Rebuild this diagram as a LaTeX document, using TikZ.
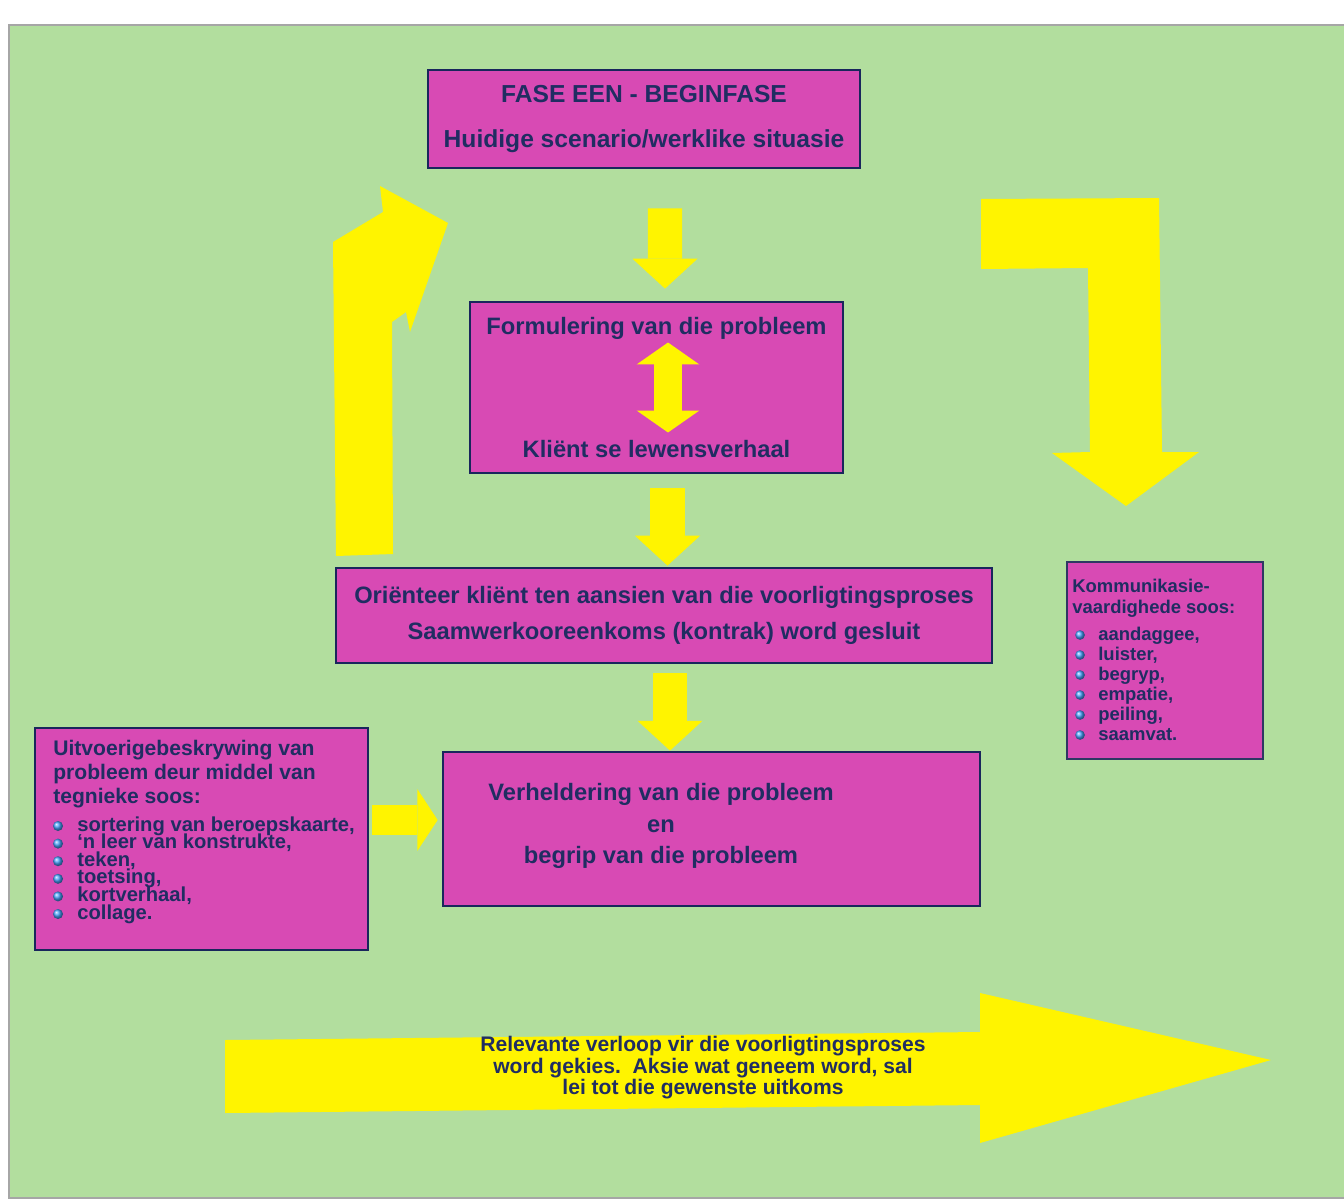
\documentclass[tikz,border=0pt]{standalone}
\usepackage{fontspec}
\setmainfont{Liberation Sans}
\usetikzlibrary{arrows.meta,calc}
\definecolor{veldgroen}{RGB}{178,222,158}
\definecolor{bokspienk}{RGB}{216,74,180}
\definecolor{boksrand}{RGB}{25,38,92}
\definecolor{skrif}{RGB}{32,45,98}
\definecolor{pylgeel}{RGB}{255,244,0}
\definecolor{koeltjie}{RGB}{70,160,250}

\tikzset{
  boks/.style={draw=boksrand, line width=1.6pt, fill=bokspienk, text=skrif, align=center, inner sep=2pt},
  lys/.style={text=skrif, inner sep=0pt},
  pyl/.style={draw=pylgeel, line width=19.5pt, -{Triangle[width=37pt,length=17pt,line width=0pt]}},
}

\begin{document}
\begin{tikzpicture}[x=0.02cm,y=-0.02cm]
        \useasboundingbox[fill=white] (0,0) rectangle (1344,1203);
        % Background
        \fill[veldgroen] (9,25) rectangle (1344,1198);
        \draw[gray!70, line width=0.6pt] (1344,25) -- (9,25) -- (9,1198) -- (1344,1198);

        % Boxes
        \node[boks, minimum width=8.64cm, minimum height=1.96cm, font=\bfseries\fontsize{14}{26}\selectfont] (fase) at (644,119)
            {FASE EEN - BEGINFASE\\Huidige scenario/werklike situasie};
        \node[boks, minimum width=7.46cm, minimum height=3.42cm, font=\bfseries\fontsize{13.5}{70}\selectfont] (form) at (656.5,387.5)
            {Formulering van die probleem\\Kliënt se lewensverhaal};
        \node[boks, minimum width=13.12cm, minimum height=1.9cm, font=\bfseries\fontsize{13.5}{20.4}\selectfont] (orient) at (664,615.5)
            {Oriënteer kliënt ten aansien van die voorligtingsproses\\Saamwerkooreenkoms (kontrak) word gesluit};
        \node[boks, minimum width=10.74cm, minimum height=3.08cm] (verh) at (711.5,829) {};
        \node[lys, align=center, font=\bfseries\fontsize{13.5}{17.9}\selectfont] (verhtxt) at (661,826)
            {Verheldering van die probleem\\en\\begrip van die probleem};
        \node[boks, minimum width=6.66cm, minimum height=4.44cm] (tegniek) at (201.5,839) {};
        \node[boks, draw=boksrand!80!gray, line width=1pt, minimum width=3.92cm, minimum height=3.94cm] (komm) at (1165,660.5) {};

        % Left box text
        \foreach \lyn [count=\i] in {Uitvoerigebeskrywing van, probleem deur middel van, tegnieke soos:}
            \node[lys, anchor=base west, font=\bfseries\fontsize{12}{14}\selectfont] (tegkop\i) at (53,731+24*\i) {\lyn};
        \foreach \lyn [count=\i] in {{sortering van beroepskaarte,}, {`n leer van konstrukte,}, {teken,}, {toetsing,}, {kortverhaal,}, {collage.}}{
            \shade[ball color=koeltjie] (58,808.4+17.6*\i) circle (5);
            \node[lys, anchor=base west, font=\bfseries\fontsize{11.5}{12}\selectfont] (tegitem\i) at (77,813.4+17.6*\i) {\lyn};
        }
        % Right box text
        \foreach \lyn [count=\i] in {Kommunikasie-, vaardighede soos:}
            \node[lys, anchor=base west, font=\bfseries\fontsize{10.5}{12}\selectfont] (kommkop\i) at (1072,571+21*\i) {\lyn};
        \foreach \lyn [count=\i] in {{aandaggee,}, {luister,}, {begryp,}, {empatie,}, {peiling,}, {saamvat.}}{
            \shade[ball color=koeltjie] (1080,615+20*\i) circle (4.8);
            \node[lys, anchor=base west, font=\bfseries\fontsize{10.5}{12}\selectfont] (kommitem\i) at (1098,620+20*\i) {\lyn};
        }

        % Straight block arrows
        \draw[pyl] ([shift={(21,39)}]fase.south) -- ([shift={(8.5,-12)}]form.north);
        \draw[pyl] ([shift={(11,14)}]form.south) -- ([shift={(3.5,-1)}]orient.north);
        \draw[pyl] ([shift={(6,9)}]orient.south) -- ([shift={(-41.5,0)}]verh.north);
        \draw[pyl, line width=17.6pt, -{Triangle[width=35pt,length=11.5pt,line width=0pt]}]
            ([shift={(3,-19)}]tegniek.east) -- ([shift={(-4,-9)}]verh.west);
        \draw[pyl, line width=16.4pt, {Triangle[width=35.7pt,length=12.5pt,line width=0pt]}-{Triangle[width=35.7pt,length=12.5pt,line width=0pt]}]
            ([shift={(11.5,-45)}]form.center) -- ([shift={(11.5,45)}]form.center);

        % Bent arrows
        \fill[pylgeel] (336,556) -- (393,554) -- (392,322) -- (406,312) -- (410,332) -- (448,223)
            -- (380,186) -- (383,212) -- (333,242) -- cycle;
        \fill[pylgeel] (981,199) -- (1159,198) -- (1162,452) -- (1199,452) -- (1126,506)
            -- (1052,453) -- (1090,452) -- (1088,268) -- (981,269) -- cycle;

        % Bottom arrow
        \fill[pylgeel] (225,1040) -- (980,1032) -- (980,993) -- (1271,1060) -- (980,1143)
            -- (980,1105) -- (225,1113) -- cycle;
        \node[lys, align=center, font=\bfseries\fontsize{12}{10.8}\selectfont] (verloop) at (703,1068)
            {Relevante verloop vir die voorligtingsproses\\word gekies.\ \ Aksie wat geneem word, sal\\lei tot die gewenste uitkoms};
    \end{tikzpicture}
\end{document}
